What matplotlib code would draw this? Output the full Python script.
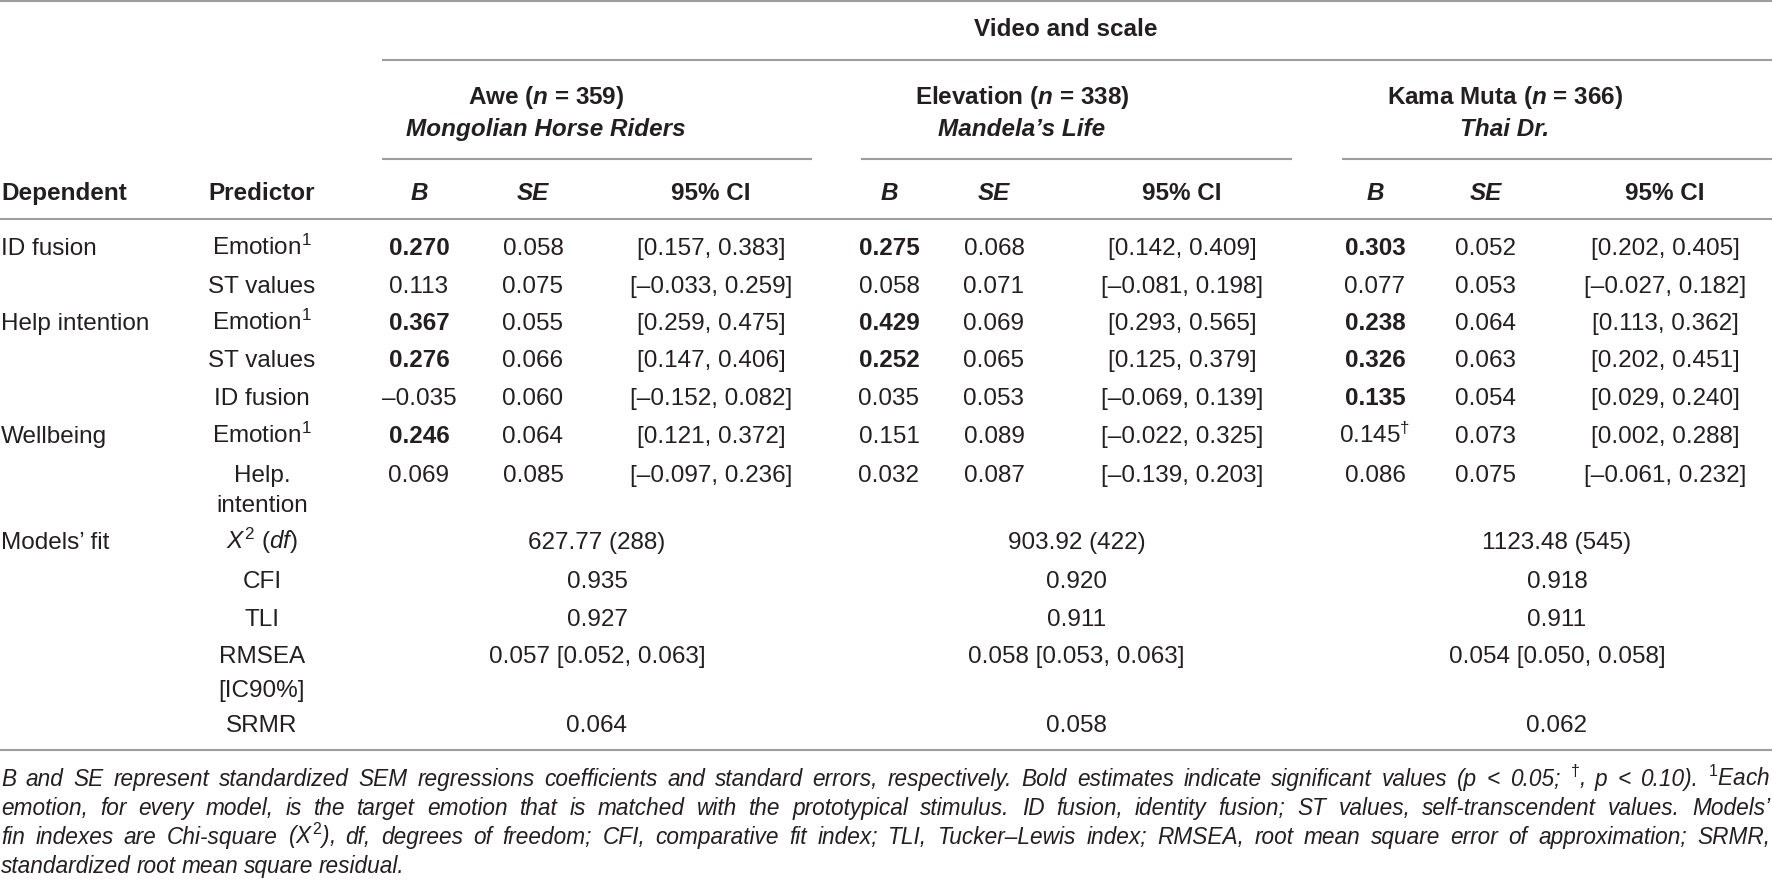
import matplotlib
matplotlib.use("Agg")
import matplotlib.pyplot as plt
from matplotlib.font_manager import FontProperties
from matplotlib.mathtext import MathTextParser

plt.rcParams['font.family'] = ['Liberation Sans', 'DejaVu Sans']
plt.rcParams['mathtext.fontset'] = 'custom'
plt.rcParams['mathtext.rm'] = 'Liberation Sans'
plt.rcParams['mathtext.it'] = 'Liberation Sans:italic'
plt.rcParams['mathtext.bf'] = 'Liberation Sans:bold'
try:
    plt.rcParams['mathtext.bfit'] = 'Liberation Sans:italic:bold'
except KeyError:
    pass

# ---------------- data ----------------
spanner = "Video and scale"
groups = ["Awe", "Elevation", "Kama Muta"]
group_n = [359, 338, 366]
group_videos = ["Mongolian Horse Riders", "Mandela\u2019s Life", "Thai Dr."]
col_heads = ["B", "SE", "95% CI"]

dependents = ["ID fusion", "", "Help intention", "", "", "Wellbeing", ""]
predictors = ["Emotion$^{1}$", "ST values", "Emotion$^{1}$", "ST values",
              "ID fusion", "Emotion$^{1}$", "Help.\nintention"]

awe_b = [0.270, 0.113, 0.367, 0.276, -0.035, 0.246, 0.069]
awe_se = [0.058, 0.075, 0.055, 0.066, 0.060, 0.064, 0.085]
awe_lo = [0.157, -0.033, 0.259, 0.147, -0.152, 0.121, -0.097]
awe_hi = [0.383, 0.259, 0.475, 0.406, 0.082, 0.372, 0.236]
awe_sig = ["s", "", "s", "s", "", "s", ""]

elev_b = [0.275, 0.058, 0.429, 0.252, 0.035, 0.151, 0.032]
elev_se = [0.068, 0.071, 0.069, 0.065, 0.053, 0.089, 0.087]
elev_lo = [0.142, -0.081, 0.293, 0.125, -0.069, -0.022, -0.139]
elev_hi = [0.409, 0.198, 0.565, 0.379, 0.139, 0.325, 0.203]
elev_sig = ["s", "", "s", "s", "", "", ""]

kama_b = [0.303, 0.077, 0.238, 0.326, 0.135, 0.145, 0.086]
kama_se = [0.052, 0.053, 0.064, 0.063, 0.054, 0.073, 0.075]
kama_lo = [0.202, -0.027, 0.113, 0.202, 0.029, 0.002, -0.061]
kama_hi = [0.405, 0.182, 0.362, 0.451, 0.240, 0.288, 0.232]
kama_sig = ["s", "", "s", "s", "s", "t", ""]

fit_label = "Models\u2019 fit"
fit_names = ["$X^{2}$ ($df$)", "CFI", "TLI", "RMSEA\n[IC90%]", "SRMR"]
chi2 = [627.77, 903.92, 1123.48]
chi2_df = [288, 422, 545]
cfi = [0.935, 0.920, 0.918]
tli = [0.927, 0.911, 0.911]
rmsea = [0.057, 0.058, 0.054]
rmsea_lo = [0.052, 0.053, 0.050]
rmsea_hi = [0.063, 0.063, 0.058]
srmr = [0.064, 0.058, 0.062]

footnote_lines = [
    "B and SE represent standardized SEM regressions coefficients and standard errors, "
    "respectively. Bold estimates indicate significant values (p < 0.05; $^{\\dagger}$, "
    "p < 0.10). $^{1}$Each",
    "emotion, for every model, is the target emotion that is matched with the prototypical "
    "stimulus. ID fusion, identity fusion; ST values, self-transcendent values. Models\u2019",
    "fin indexes are Chi-square ($X^{2}$), df, degrees of freedom; CFI, comparative fit index; "
    "TLI, Tucker\u2013Lewis index; RMSEA, root mean square error of approximation; SRMR,",
    "standardized root mean square residual.",
]

# ---------------- layout ----------------
W, H = 1772, 884
TXT = "#231f20"
RULE = "#9d9d9d"
FS = 17.5
FN_FS = 16.3

fig = plt.figure(figsize=(W / 100, H / 100), dpi=100)
ax = fig.add_axes([0, 0, 1, 1])
ax.set_xlim(0, W)
ax.set_ylim(H, 0)
ax.axis("off")


def can_parse(s):
    try:
        MathTextParser("path").parse(s, dpi=100, prop=FontProperties())
        return True
    except Exception:
        return False


NMATH = r"$\bfit{n}$" if can_parse(r"$\bfit{n}$") else r"$\it{n}$"


def put(x, y, s, fs=FS, ha="center", **kw):
    cap = 0.716 * fs * 100 / 72
    return ax.text(x, y + cap / 2, s, fontsize=fs, ha=ha, va="baseline",
                   color=TXT, **kw)


def rule(x0, x1, y):
    ax.plot([x0, x1], [y, y], color=RULE, lw=1.5, solid_capstyle="butt")


def f3(v):
    return ("\u2013" if v < 0 else "") + f"{abs(v):.3f}"


# rules
rule(0, W, 1)
rule(382, W, 60)
group_lines = [(382, 812), (861, 1292), (1342, W)]
for x0, x1 in group_lines:
    rule(x0, x1, 159)
rule(0, W, 219)
rule(0, W, 750)

# header
put(1066, 27, spanner, weight="bold")
group_hx = [546, 1022, 1505]
for gx, g, n, v in zip(group_hx, groups, group_n, group_videos):
    put(gx, 95, f"{g} ({NMATH} = {n})", weight="bold")
    put(gx, 127, v, weight="bold", style="italic")

put(1, 191, "Dependent", ha="left", weight="bold")
put(262, 191, "Predictor", weight="bold")
col_x = [(419, 533, 711), (889, 994, 1182), (1375, 1486, 1665)]
for cx in col_x:
    put(cx[0], 191, col_heads[0], weight="bold", style="italic")
    put(cx[1], 191, col_heads[1], weight="bold", style="italic")
    put(cx[2], 191, col_heads[2], weight="bold")

# body
row_y = [246, 284, 321, 358, 396, 434, 473]
LINE = 30
for i, y in enumerate(row_y):
    if dependents[i]:
        put(1, y, dependents[i], ha="left")
    for k, line in enumerate(predictors[i].split("\n")):
        put(262, y + k * LINE, line)

series = [(awe_b, awe_se, awe_lo, awe_hi, awe_sig),
          (elev_b, elev_se, elev_lo, elev_hi, elev_sig),
          (kama_b, kama_se, kama_lo, kama_hi, kama_sig)]
for cx, (bs, ses, los, his, sig) in zip(col_x, series):
    for i, y in enumerate(row_y):
        if sig[i] == "s":
            put(cx[0], y, f3(bs[i]), weight="bold")
        elif sig[i] == "t":
            put(cx[0], y, f3(bs[i]) + r"$^{\dagger}$")
        else:
            put(cx[0], y, f3(bs[i]))
        put(cx[1], y, f3(ses[i]))
        put(cx[2], y, f"[{f3(los[i])}, {f3(his[i])}]")

# model fit
fit_y = [540, 579, 617, 654, 723]
put(1, fit_y[0], fit_label, ha="left")
for name, y in zip(fit_names, fit_y):
    for k, line in enumerate(name.split("\n")):
        put(262, y + k * 34, line)
for j, (x0, x1) in enumerate(group_lines):
    cx = (x0 + x1) / 2
    put(cx, fit_y[0], f"{chi2[j]:.2f} ({chi2_df[j]})")
    put(cx, fit_y[1], f"{cfi[j]:.3f}")
    put(cx, fit_y[2], f"{tli[j]:.3f}")
    put(cx, fit_y[3], f"{rmsea[j]:.3f} [{rmsea_lo[j]:.3f}, {rmsea_hi[j]:.3f}]")
    put(cx, fit_y[4], f"{srmr[j]:.3f}")

# footnote (justified)
fn_y = [778, 807, 836, 865]
X0, X1 = 1, 1770
renderer = fig.canvas.get_renderer()


def measure(words, fs):
    ws = []
    for w in words:
        t = ax.text(0, 0, w, fontsize=fs, style="italic")
        ws.append(t.get_window_extent(renderer).width)
        t.remove()
    return ws


fs = FN_FS
word_lists = [ln.split(" ") for ln in footnote_lines]
for _ in range(3):
    need = 1.0
    for words in word_lists[:-1]:
        ws = measure(words, fs)
        minimal = sum(ws) + (len(ws) - 1) * 0.14 * fs * 100 / 72
        need = max(need, minimal / (X1 - X0))
    if need <= 1.0:
        break
    fs = fs / need

for li, (words, y) in enumerate(zip(word_lists, fn_y)):
    ws = measure(words, fs)
    last = li == len(word_lists) - 1
    if last:
        gap = 0.25 * fs * 100 / 72
    else:
        gap = (X1 - X0 - sum(ws)) / (len(ws) - 1)
    x = X0
    for w, wd in zip(words, ws):
        put(x, y, w, fs=fs, ha="left", style="italic")
        x += wd + gap

fig.savefig("out.png", dpi=100)
